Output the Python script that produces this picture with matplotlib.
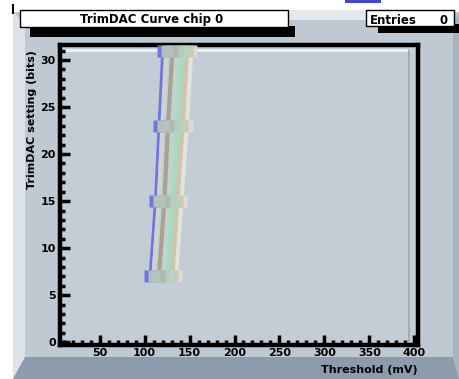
import matplotlib
matplotlib.use("Agg")
import matplotlib.pyplot as plt
from matplotlib.patches import Rectangle, Polygon
import numpy as np

# trim DAC settings and threshold per channel (mV)
trim = [7, 15, 23, 31]
ch_blue = [106, 112, 116, 120]
ch_grey = [110, 116, 120, 125]
ch_brown = [116, 122, 126, 131]
ch_mint = [121, 127, 132, 137]
ch_green = [126, 132, 137, 142]
ch_tan = [131, 136, 142, 147]
ch_white = [135, 141, 147, 152]

channels = [ch_blue, ch_white, ch_tan, ch_green, ch_mint, ch_brown, ch_grey]
colors = ['#6a6ae4', '#e6e6dc', '#d2c4aa', '#a6dcbc', '#bcd8c6', '#a89c8c', '#cdd6ce']
box_colors = ['#7070e0', '#dcdcd2', '#cfc6b4', '#b4d6c2', '#b8ccc0', '#adb8b0', '#b6c4bc']

xticks = [50, 100, 150, 200, 250, 300, 350, 400]
yticks = [0, 5, 10, 15, 20, 25, 30]

W, H = 459, 379
fig = plt.figure(figsize=(W / 100, H / 100), dpi=100)
fig.patch.set_facecolor('white')

pad = '#bfc9d1'

def px(x0, y0, w, h, z=-5, **kw):
    # rectangle in pixel coords (origin top-left)
    r = Rectangle((x0 / W, 1 - (y0 + h) / H), w / W, h / H,
                  transform=fig.transFigure, zorder=z, **kw)
    fig.add_artist(r)

def poly(pts, z=-5, **kw):
    p = Polygon([(x / W, 1 - y / H) for x, y in pts], closed=True,
                transform=fig.transFigure, zorder=z, **kw)
    fig.add_artist(p)

# canvas with bevel
px(13, 12, 446, 367, z=-10, facecolor=pad, edgecolor='none')
poly([(13, 12), (25, 24), (25, 357), (13, 379)], facecolor='#dde3e8', edgecolor='none')
poly([(13, 379), (25, 357), (453, 357), (459, 379)], facecolor='#8d9cac', edgecolor='none')
poly([(453, 24), (459, 12), (459, 379), (453, 357)], facecolor='#a7b3be', edgecolor='none')
px(12, 4, 2, 10, facecolor='black', edgecolor='none')
px(345, 0, 36, 3, facecolor='#4444dd', edgecolor='none')
px(287, 10, 80, 10, facecolor='#e4e9ed', edgecolor='none')

ax = fig.add_axes([60 / W, 1 - 345 / H, 358 / W, 300 / H])
ax.set_facecolor('#c3cdd5')

for xs, c, bc in zip(channels, colors, box_colors):
    lw = 2.0 if c == '#6a6ae4' else 3.0
    ax.plot(xs, trim, color=c, lw=lw, alpha=0.9, zorder=3)
    ax.plot(xs, trim, ls='none', marker='s', ms=9, mec='none', mfc=bc,
            alpha=0.95, zorder=4)

ax.set_xlim(6, 404)
ax.set_ylim(-0.3, 31.6)
ax.set_xticks(xticks)
ax.set_yticks(yticks)
ax.set_xticks(np.arange(10, 404, 10), minor=True)
ax.set_yticks(np.arange(1, 32, 1), minor=True)
ax.tick_params(which='both', direction='in', width=2.5, colors='black',
               top=False, right=False, labelsize=8)
ax.tick_params(which='major', length=7)
ax.tick_params(which='minor', length=3.5)
for lab in ax.get_xticklabels() + ax.get_yticklabels():
    lab.set_fontweight('bold')
ax.tick_params(axis='x', pad=2)
ax.tick_params(axis='y', pad=3)
for s in ax.spines.values():
    s.set_linewidth(3.2)
    s.set_color('black')

# inner frame highlight
ax.plot([0.008, 0.975], [0.985, 0.985], transform=ax.transAxes, color='#eef1f3', lw=2, zorder=1)
ax.plot([0.975, 0.975], [0.015, 0.985], transform=ax.transAxes, color='#9aa6b0', lw=1.2, zorder=1)

fig.text(418 / W, 1 - 370 / H, 'Threshold (mV)', ha='right', va='center',
         fontsize=8, fontweight='bold')
fig.text(32 / W, 1 - 50 / H, 'TrimDAC setting (bits)', ha='center', va='top',
         rotation=90, fontsize=8, fontweight='bold')

# title box with shadow
px(30, 26, 265, 11, z=5, facecolor='black', edgecolor='none')
px(20, 10, 268, 17, z=6, facecolor='white', edgecolor='black', lw=1)
fig.text(152 / W, 1 - 19 / H, 'TrimDAC Curve chip 0', ha='center', va='center',
         fontsize=8.5, fontweight='bold', zorder=7)

# stats box with shadow
px(378, 24, 81, 9, z=5, facecolor='black', edgecolor='none')
px(366, 10, 88, 16, z=6, facecolor='white', edgecolor='black', lw=1)
fig.text(370 / W, 1 - 21 / H, 'Entries', ha='left', va='center', fontsize=8.5,
         fontweight='bold', zorder=7)
fig.text(448 / W, 1 - 21 / H, '0', ha='right', va='center', fontsize=8.5,
         fontweight='bold', zorder=7)

fig.savefig('out.png', dpi=100, facecolor=fig.get_facecolor())
